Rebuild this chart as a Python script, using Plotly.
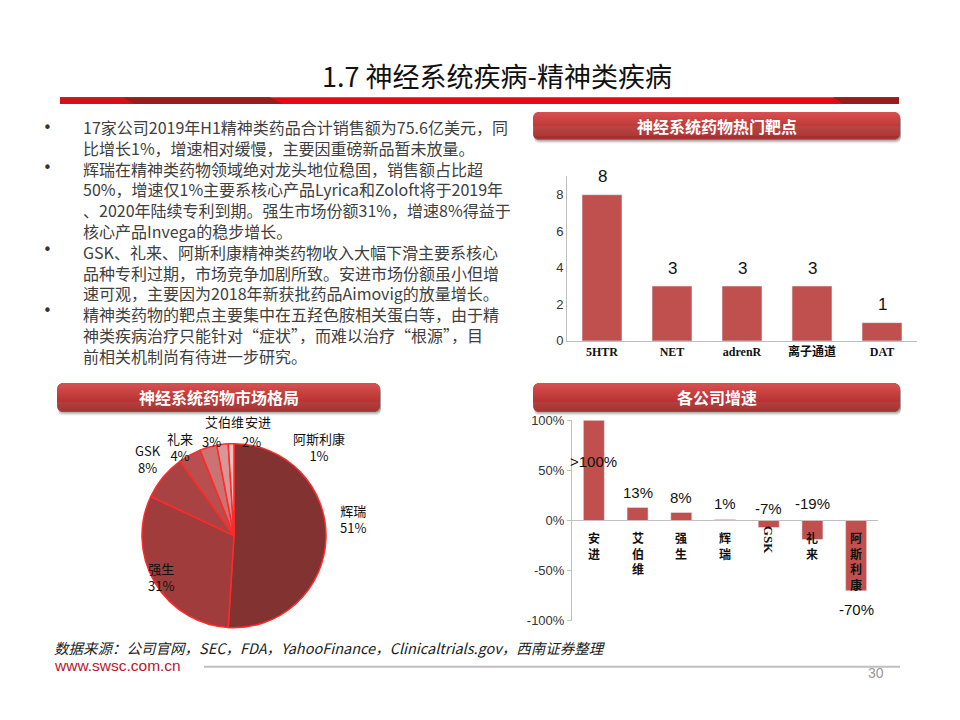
import plotly.graph_objects as go

# ---------------- data ----------------
target_cats = ["5HTR", "NET", "adrenR", "离子通道", "DAT"]
target_counts = [8, 3, 3, 3, 1]

share_companies = ["辉瑞", "强生", "GSK", "礼来", "艾伯维", "安进", "阿斯利康"]
share_pct = [51, 31, 8, 4, 3, 2, 1]

growth_companies = ["安进", "艾伯维", "强生", "辉瑞", "GSK", "礼来", "阿斯利康"]
growth_pct = [100, 13, 8, 1, -7, -19, -70]
growth_labels = [">100%", "13%", "8%", "1%", "-7%", "-19%", "-70%"]
growth_tickvals = [-100, -50, 0, 50, 100]
growth_ticktext = ["-100%", "-50%", "0%", "50%", "100%"]

title_text = "1.7 神经系统疾病-精神类疾病"
body_lines = [
    "17家公司2019年H1精神类药品合计销售额为75.6亿美元，同",
    "比增长1%，增速相对缓慢，主要因重磅新品暂未放量。",
    "辉瑞在精神类药物领域绝对龙头地位稳固，销售额占比超",
    "50%，增速仅1%主要系核心产品Lyrica和Zoloft将于2019年",
    "、2020年陆续专利到期。强生市场份额31%，增速8%得益于",
    "核心产品Invega的稳步增长。",
    "GSK、礼来、阿斯利康精神类药物收入大幅下滑主要系核心",
    "品种专利过期，市场竞争加剧所致。安进市场份额虽小但增",
    "速可观，主要因为2018年新获批药品Aimovig的放量增长。",
    "精神类药物的靶点主要集中在五羟色胺相关蛋白等，由于精",
    "神类疾病治疗只能针对“症状”，而难以治疗“根源”，目",
    "前相关机制尚有待进一步研究。",
]
bullet_line_index = [0, 2, 6, 9]
source_text = "数据来源：公司官网，SEC，FDA，YahooFinance，Clinicaltrials.gov，西南证券整理"

# ---------------- layout helpers ----------------
# page body has an 8px margin, so the figure is 944x704 and page pixels are offset by 8
OFF = 8
W, H = 944, 704
def px(x): return (x - OFF) / W
def py(y): return 1 - (y - OFF) / H

CJK = "Noto Sans CJK SC"
BAR_RED = "#C0504D"
pie_colors = ["#833232", "#A03C3C", "#A94343", "#B84E4E", "#CB7373", "#D99696", "#EDC2C2"]

fig = go.Figure()

fig.add_trace(go.Bar(x=target_cats, y=target_counts, marker_color=BAR_RED, width=0.57,
                     xaxis="x", yaxis="y", showlegend=False, hoverinfo="x+y"))
fig.add_trace(go.Bar(x=growth_companies, y=growth_pct, marker_color=BAR_RED, width=0.48,
                     xaxis="x2", yaxis="y2", showlegend=False, hoverinfo="x+y"))
fig.add_trace(go.Pie(labels=share_companies, values=share_pct, sort=False, direction="clockwise",
                     rotation=0, textinfo="none", showlegend=False,
                     marker=dict(colors=pie_colors, line=dict(color="#FF2A2A", width=1.5)),
                     domain=dict(x=[px(140), px(328)], y=[py(634), py(446)])))

shapes = []
annotations = []

# red band under the title
shapes.append(dict(type="rect", xref="paper", yref="paper", x0=px(60), x1=px(899), y0=py(99), y1=py(92),
                   fillcolor="#E30A17", line=dict(width=0), layer="below"))
def poly(pts, color):
    d = "M " + " L ".join(f"{px(a):.5f},{py(b):.5f}" for a, b in pts) + " Z"
    return dict(type="path", xref="paper", yref="paper", path=d, fillcolor=color, line=dict(width=0), layer="below")
shapes.append(poly([(60, 92), (123, 92), (135, 99), (60, 99)], "#D4101B"))
shapes.append(poly([(123, 92), (270, 92), (283, 99), (135, 99)], "#991B1E"))
shapes.append(poly([(833, 92), (899, 92), (899, 99), (843, 99)], "#991B1E"))

def rpath(x0, y0, x1, y1, r):
    P = lambda a, b: f"{px(a):.5f},{py(b):.5f}"
    return (f"M {P(x0+r,y0)} L {P(x1-r,y0)} Q {P(x1,y0)} {P(x1,y0+r)} L {P(x1,y1-r)} "
            f"Q {P(x1,y1)} {P(x1-r,y1)} L {P(x0+r,y1)} Q {P(x0,y1)} {P(x0,y1-r)} "
            f"L {P(x0,y0+r)} Q {P(x0,y0)} {P(x0+r,y0)} Z")

def lerp(c1, c2, t):
    a = [int(c1[i:i+2], 16) for i in (1, 3, 5)]
    b = [int(c2[i:i+2], 16) for i in (1, 3, 5)]
    return "#" + "".join(f"{round(a[i] + (b[i]-a[i])*t):02x}" for i in range(3))

def header(x0, x1, y0, y1, text):
    r = 6
    for off, op in ((4, 0.10), (2.5, 0.14), (1.2, 0.18)):
        shapes.append(dict(type="path", xref="paper", yref="paper", path=rpath(x0 + 1, y0 + off, x1 + 1, y1 + off, r),
                           fillcolor=f"rgba(0,0,0,{op})", line=dict(width=0), layer="below"))
    h = y1 - y0
    n = int(h)
    for i in range(n):
        ya, yb = y0 + i * h / n, y0 + (i + 1) * h / n
        dc = min((ya + yb) / 2 - y0, y1 - (ya + yb) / 2)
        ind = 0 if dc >= r else r - (r * r - (r - dc) ** 2) ** 0.5
        t = i / (n - 1)
        col = lerp("#D85050", "#A82424", t)
        shapes.append(dict(type="rect", xref="paper", yref="paper", x0=px(x0 + ind), x1=px(x1 - ind),
                           y0=py(yb + 0.3), y1=py(ya), fillcolor=col, line=dict(width=0), layer="below"))
    annotations.append(dict(x=px((x0 + x1) / 2), y=py((y0 + y1) / 2), xref="paper", yref="paper", text=text,
                            showarrow=False, xanchor="center", yanchor="middle",
                            font=dict(family=CJK, size=16, color="white", weight="bold")))

header(533, 900, 107, 135, "神经系统药物热门靶点")
header(57, 380, 384, 413, "神经系统药物市场格局")
header(533, 900, 384, 413, "各公司增速")

# title
annotations.append(dict(x=px(497), y=py(70), xref="paper", yref="paper", text=title_text, showarrow=False,
                        xanchor="center", yanchor="middle", font=dict(family=CJK, size=27, color="#111111")))

# body text as one block
BODY_SIZE = 16
pitch = BODY_SIZE * 1.3
first_y = 125
annotations.append(dict(x=px(82), y=py(first_y - pitch / 2 - 5), xref="paper", yref="paper", text="<br>".join(body_lines),
                        showarrow=False, xanchor="left", yanchor="top", align="left", borderpad=0,
                        font=dict(family=CJK, size=BODY_SIZE, color="#404040")))
for li in bullet_line_index:
    annotations.append(dict(x=px(47), y=py(first_y + li * pitch - 2), xref="paper", yref="paper", text="•",
                            showarrow=False, xanchor="center", yanchor="middle",
                            font=dict(family="DejaVu Sans", size=15, color="#333333")))

# top chart value labels
for c, v in zip(target_cats, target_counts):
    annotations.append(dict(x=c, y=v, xref="x", yref="y", text=str(v), showarrow=False, yanchor="middle",
                            yshift=18, font=dict(family="Liberation Sans", size=17, color="#111111")))

# growth chart value labels: (anchor value, pixel shift)
label_anchor = [(100, -41), (13, 15), (8, 15), (1, 16), (0, 12), (0, 17), (-70, -19)]
for c, t, (av, s) in zip(growth_companies, growth_labels, label_anchor):
    annotations.append(dict(x=c, y=av, xref="x2", yref="y2", text=t, showarrow=False, yanchor="middle",
                            yshift=s, font=dict(family="Liberation Sans", size=15, color="#111111")))

# growth chart vertical category labels
for c in growth_companies:
    if c == "GSK":
        annotations.append(dict(x=c, y=0, xref="x2", yref="y2", text=c, showarrow=False, textangle=90,
                                xanchor="center", yanchor="middle", yshift=-19,
                                font=dict(family="Liberation Serif", size=13, color="#111111", weight="bold")))
        continue
    annotations.append(dict(x=c, y=0, xref="x2", yref="y2", text="<br>".join(c), showarrow=False,
                            xanchor="center", yanchor="top", yshift=-7,
                            font=dict(family=CJK, size=12, color="#111111", weight="bold")))

# pie labels
pie_label_pos = {
    "辉瑞": (353, 543), "强生": (146, 603), "GSK": (133, 482), "礼来": (165, 449),
    "艾伯维": (203, 433), "安进": (243, 433), "阿斯利康": (291, 449),
}
for c, p in zip(share_companies, share_pct):
    x, y = pie_label_pos[c]
    if c in ("艾伯维", "安进"):
        annotations.append(dict(x=px(x), y=py(y - 10), xref="paper", yref="paper", text=c, showarrow=False,
                                font=dict(family=CJK, size=13, color="#111111")))
        annotations.append(dict(x=px(x - 3), y=py(y + 11), xref="paper", yref="paper", text=f"{p}%", showarrow=False,
                                font=dict(family=CJK, size=13, color="#111111")))
    else:
        annotations.append(dict(x=px(x), y=py(y), xref="paper", yref="paper", text=f"{c}<br>{p}%", showarrow=False,
                                font=dict(family=CJK, size=13, color="#111111")))

# footer
annotations.append(dict(x=px(52), y=py(654), xref="paper", yref="paper", text=source_text, showarrow=False,
                        xanchor="left", yanchor="middle",
                        font=dict(family=CJK, size=14.5, color="#222222", style="italic")))
annotations.append(dict(x=px(52), y=py(673), xref="paper", yref="paper", text="www.swsc.com.cn", showarrow=False,
                        xanchor="left", yanchor="middle", font=dict(family="Liberation Sans", size=15.5, color="#C0142C")))
shapes.append(dict(type="line", xref="paper", yref="paper", x0=px(204), x1=px(900), y0=py(674), y1=py(674),
                   line=dict(color="#BFBFBF", width=2)))
annotations.append(dict(x=px(886), y=py(691), xref="paper", yref="paper", text="30", showarrow=False,
                        font=dict(family="Liberation Sans", size=14, color="#999999")))

tickfont = dict(family="Liberation Sans", size=13, color="#333333")
fig.update_layout(
    width=W, height=H, margin=dict(l=0, r=0, t=0, b=0), autosize=False,
    paper_bgcolor="white", plot_bgcolor="rgba(0,0,0,0)", showlegend=False,
    xaxis=dict(domain=[px(567), px(917)], range=[-0.5, 4.5], anchor="y", showline=True, linecolor="#BFBFBF",
               ticks="", showgrid=False, zeroline=False, fixedrange=True,
               tickfont=dict(family="Liberation Serif, " + CJK, size=12, color="#111111", weight="bold")),
    yaxis=dict(domain=[py(341), py(173)], range=[0, 9], dtick=2, anchor="x", showline=True, linecolor="#BFBFBF",
               showgrid=False, zeroline=False, ticks="", tickfont=tickfont, fixedrange=True),
    xaxis2=dict(domain=[px(572), px(878)], range=[-0.5, 6.5], anchor="y2", showticklabels=False, showline=False,
                showgrid=False, zeroline=False, ticks="", fixedrange=True),
    yaxis2=dict(domain=[py(627), py(422)], range=[-100, 100], tickvals=growth_tickvals, ticktext=growth_ticktext,
                anchor="x2", showline=True, linecolor="#BFBFBF", showgrid=False, zeroline=True,
                zerolinecolor="#BFBFBF", zerolinewidth=1, ticks="outside", ticklen=4, tickcolor="#BFBFBF",
                tickfont=tickfont, fixedrange=True),
    shapes=shapes, annotations=annotations,
)

fig.write_html("out.html")
